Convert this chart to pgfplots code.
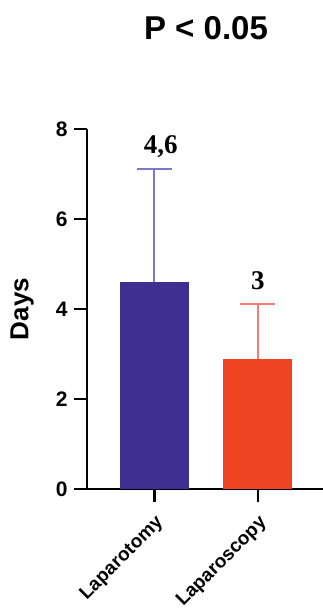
\documentclass[border=0pt]{standalone}
\usepackage{fontspec}
\setmainfont{Liberation Sans}
\newfontfamily\serifb{Liberation Serif}
\usepackage{pgfplots}
\pgfplotsset{compat=1.18}
\definecolor{barblue}{HTML}{3F2F90}
\definecolor{barred}{HTML}{EE4422}
\definecolor{errblue}{HTML}{7A78C8}
\definecolor{errred}{HTML}{F47A72}
\begin{document}
\begin{tikzpicture}
\begin{axis}[
  scale only axis, width=236pt, height=360pt,
  xmin=-0.652, xmax=1.63, ymin=0, ymax=8,
  axis x line=bottom, axis y line=left,
  axis line style={-, line width=2.5pt, black},
  ytick={0,2,4,6,8}, xtick={0,1}, xticklabels={Laparotomy,Laparoscopy},
  tick align=outside, major tick length=13pt,
  tick style={line width=2.5pt, black},
  /pgf/number format/assume math mode=true,
  yticklabel style={font=\bfseries\fontsize{21}{21}\selectfont, xshift=-3pt},
  xticklabel style={font=\bfseries\fontsize{19}{19}\selectfont, rotate=45, anchor=north east, inner sep=2pt},
  xticklabel shift=9pt,
  ylabel={Days},
  ylabel style={font=\bfseries\fontsize{26}{26}\selectfont, at={(axis description cs:-0.275,0.5)}, anchor=center},
  clip=false,
]
\addplot[ybar, bar width=69pt, bar shift=0pt, fill=barblue, draw=none,
  error bars/.cd, y dir=plus, y explicit,
  error bar style={errblue, line width=2pt},
  error mark options={errblue, rotate=90, mark size=17.5pt, line width=2pt}]
  coordinates {(0,4.6) +- (0,2.5)};
\addplot[ybar, bar width=69pt, bar shift=0pt, fill=barred, draw=none,
  error bars/.cd, y dir=plus, y explicit,
  error bar style={errred, line width=2pt},
  error mark options={errred, rotate=90, mark size=17.5pt, line width=2pt}]
  coordinates {(1,2.9) +- (0,1.2)};
\node[font=\serifb\bfseries\fontsize{27}{27}\selectfont, anchor=base] at (axis cs:0.06,7.46) {4,6};
\node[font=\serifb\bfseries\fontsize{27}{27}\selectfont, anchor=base] at (axis cs:1,4.44) {3};
\coordinate (SW) at (rel axis cs:0,0);
\end{axis}
\node[font=\bfseries\fontsize{33}{33}\selectfont] at ([shift={(119pt,461pt)}]SW) {P < 0.05};
\pgfresetboundingbox
\path[use as bounding box] ([shift={(-87pt,-119pt)}]SW) rectangle ([shift={(236pt,489pt)}]SW);
\end{tikzpicture}
\end{document}
